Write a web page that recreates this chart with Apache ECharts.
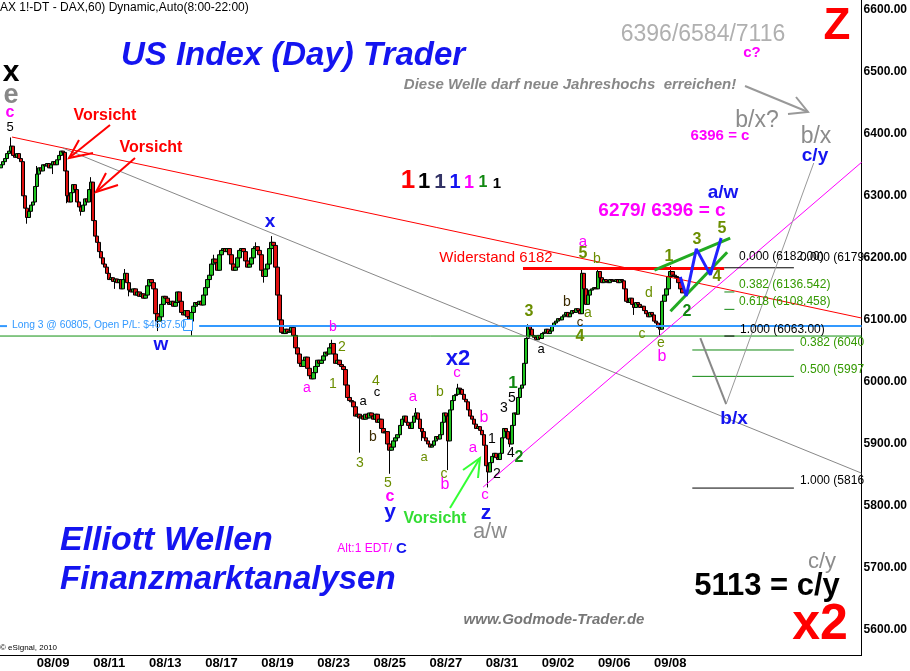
<!DOCTYPE html>
<html><head><meta charset="utf-8">
<script src="https://cdn.jsdelivr.net/npm/echarts/dist/echarts.min.js"></script>
<style>html,body{margin:0;padding:0;background:#fff}#c{width:910px;height:671px}</style>
</head><body><div id="c"></div>
<script>
// ---------- DATA ----------
const closes = [
6350,6355,6360,6368,6372,6380,6365,6362,6368,6360,
6355,6300,6280,6265,6275,6285,6290,6315,6335,6345,
6340,6350,6348,6352,6345,6350,6355,6350,6358,6365,
6372,6370,6340,6300,6290,6305,6318,6310,6290,6282,
6275,6285,6295,6290,6310,6322,6260,6235,6225,6210,
6200,6190,6185,6175,6165,6168,6162,6166,6160,6165,
6150,6165,6175,6160,6148,6145,6150,6140,6145,6138,
6142,6135,6140,6155,6165,6160,6150,6110,6098,6105,
6125,6138,6135,6128,6125,6130,6122,6128,6145,6130,
6112,6108,6115,6105,6098,6112,6122,6128,6125,6130,
6124,6140,6152,6165,6172,6190,6198,6192,6180,6205,
6212,6215,6210,6215,6205,6190,6180,6185,6200,6212,
6215,6210,6195,6185,6190,6200,6215,6218,6212,6205,
6180,6170,6182,6190,6215,6225,6220,6185,6140,6100,
6080,6078,6085,6080,6082,6088,6075,6055,6045,6030,
6025,6035,6040,6022,6010,6005,6015,6025,6035,6030,
6035,6042,6048,6045,6055,6062,6045,6030,6035,6028,
6025,6020,5995,5975,5970,5968,5960,5945,5948,5942,
5945,5940,5948,5942,5950,5945,5940,5948,5935,5940,
5925,5918,5920,5900,5890,5895,5905,5910,5915,5930,
5940,5945,5935,5930,5925,5935,5945,5950,5940,5925,
5920,5910,5905,5900,5895,5898,5905,5912,5908,5915,
5935,5950,5945,5905,5955,5970,5978,5980,5990,5988,
5980,5972,5968,5955,5945,5940,5932,5925,5928,5922,
5915,5898,5865,5855,5870,5880,5885,5878,5875,5885,
5910,5925,5920,5908,5900,5930,5950,5948,5975,5990,
5995,6030,6070,6090,6085,6075,6072,6068,6075,6070,
6078,6080,6085,6078,6082,6090,6095,6098,6102,6100,
6105,6108,6112,6105,6110,6115,6112,6118,6115,6110,
6175,6150,6125,6140,6148,6150,6152,6150,6178,6168,
6160,6165,6162,6160,6165,6163,6162,6165,6160,6165,
6163,6150,6130,6128,6135,6125,6120,6128,6125,6120,
6122,6115,6110,6105,6112,6108,6098,6095,6088,6085,
6130,6140,6150,6170,6178,6172,6170,6168,6160,6150,6143.5
];
const firstOpen = 6345;
const wickLows  = [[13,6255],[26,6335],[33,6288],[40,6268],[57,6150],[64,6138],[78,6082],[95,6075],[131,6160],[179,5886],[194,5852],[210,5905],[223,5858],[243,5830],[254,5895],[316,6108],[329,6075]];
const wickHighs = [[5,6394],[18,6348],[45,6330],[62,6182],[106,6205],[127,6225],[135,6235],[165,6068],[207,5958],[228,5997],[263,6093],[290,6184],[298,6182],[334,6187]];
const dayLabels = ['08/09','08/11','08/13','08/17','08/19','08/23','08/25','08/27','08/31','09/02','09/06','09/08'];
const firstLabelBar = 26, barsPerLabel = 28, totalBars = 430;
const yTicks = [5600,5700,5800,5900,6000,6100,6200,6300,6400,6500,6600];
const lastPrice = 6143.5;

// trend / level lines as [barIndex, price]
const redTrend     = [[5.5,6394.7],[429.5,6103]];
const grayTrend    = [[30.8,6377],[429.5,5853]];
const pinkTrend    = [[240.6,5830.6],[429.5,6354]];
const resistance   = [[260.5,6183],[360.9,6183]];
const fib0Line     = [[360.9,6184],[395.7,6184]];
const blueLong1    = [[-0.5,6090],[3,6090]];
const blueLong2    = [[98.9,6090],[429.5,6090]];
const greenLong    = [[-0.5,6074],[429.5,6074]];
const fibDashG1    = [[361,6145],[366,6145]];
const fibDashG2    = [[361,6117],[366,6117]];
const fibDashK     = [[361,6074],[366,6074]];
const fib2G382     = [[345,6051.5],[395.7,6051.5]];
const fib2G500     = [[345,6009],[395.7,6009]];
const fib2K100     = [[345,5829],[395.7,5829]];
const projDown     = [[349,6070.8],[361.9,5964.4]];
const projUp       = [[361.9,5964.4],[405.6,6352.8]];
const wedgeUpper   = [[326.1,6180.3],[363.9,6231.9]];
const wedgeLower   = [[334.1,6114],[362.4,6209]];
const blueZigzag   = [[339,6169.2],[342,6138.6],[347,6214.4],[354,6172.5],[359.4,6232]];

// ---------- BUILD ----------
const lowMap = Object.fromEntries(wickLows), highMap = Object.fromEntries(wickHighs);
const candles = closes.map((c,i)=>{
  const o = i===0 ? firstOpen : closes[i-1];
  let lo = Math.min(o,c), hi = Math.max(o,c);
  if (lowMap[i]!==undefined) lo = Math.min(lo, lowMap[i]);
  if (highMap[i]!==undefined) hi = Math.max(hi, highMap[i]);
  return [o,c,lo,hi];
});
const cats = Array.from({length: totalBars}, (_,i)=>String(i));
const labelMap = {};
dayLabels.forEach((d,k)=>{ labelMap[firstLabelBar + k*barsPerLabel] = d; });

const FONT = '"Liberation Sans", Arial, sans-serif';
function txt(x,y,s,color,size,weight,style,align,valign){
  weight = weight||'normal'; style = style||'normal'; align = align||'center'; valign = valign||'middle';
  return {type:'text', x:x, y:y, silent:true, z:100,
    style:{text:s, fill:color, font: style+' '+weight+' '+size+'px '+FONT,
      textAlign:align, textVerticalAlign:valign, align:align, verticalAlign:valign}};
}
function poly(points,color,w){
  return {type:'polyline', silent:true, z:90, shape:{points:points}, style:{stroke:color, lineWidth:w, fill:null}};
}
function L(data,color,w){
  return {type:'line', xAxisIndex:1, yAxisIndex:0, data:data, symbol:'none', silent:true,
    lineStyle:{color:color, width:w}, animation:false, z:5};
}
const MAG='#ff00ff', OLV='#6b8e00', GRN='#118811', BLU='#1414f0', BLK='#000', GRY='#8c8c8c', BRN='#3a2a00';

const graphics = [
  txt(0,8,'AX 1!-DT - DAX,60) Dynamic,Auto(8:00-22:00)',BLK,12,'normal','normal','left'),
  txt(293,56,'US Index (Day) Trader',BLU,33,'bold','italic'),
  txt(11,73,'x',BLK,30,'bold'),
  txt(11,96,'e','#888',27,'bold'),
  txt(10,113,'c',MAG,16,'bold'),
  txt(10,127,'5',BLK,13),
  txt(105,116,'Vorsicht','#ff0000',16,'bold'),
  txt(151,148,'Vorsicht','#ff0000',16,'bold'),
  poly([[110,125],[69,158]],'#ff0000',2), poly([[79,140],[69,158],[93,153]],'#ff0000',2),
  poly([[135,158],[96,192]],'#ff0000',2), poly([[106,173],[96,192],[118,185]],'#ff0000',2),
  // 1111111
  txt(408,181,'1','#ff0000',26,'bold'),
  txt(424,182,'1','#000',22,'bold'),
  txt(440,182,'1','#333366',21,'bold'),
  txt(455,182,'1','#1414f0',20,'bold'),
  txt(469,183,'1',MAG,18,'bold'),
  txt(483,183,'1',GRN,16,'bold'),
  txt(497,184,'1','#000',15,'bold'),
  txt(270,222,'x',BLU,19,'bold'),
  txt(161,345,'w',BLU,19,'bold'),
  txt(12,325,'Long 3 @ 60805, Open P/L: $4687.50','#3399ff',10.3,'normal','normal','left'),
  {type:'rect', silent:true, z:95, shape:{x:183.5,y:319.5,width:9,height:11}, style:{stroke:'#3399ff',fill:'#fff',lineWidth:1}},
  poly([[185,322],[191,329]],'#3399ff',1), poly([[191,322],[185,329]],'#3399ff',1),
  txt(333,327,'b',MAG,14), txt(342,347,'2',OLV,14), txt(307,388,'a',MAG,14), txt(333,384,'1',OLV,14),
  txt(376,381,'4',OLV,14), txt(377,392,'c',BLK,13), txt(363,401,'a',BLK,13), txt(373,437,'b',BRN,14),
  txt(360,463,'3',OLV,14), txt(388,483,'5',OLV,14), txt(390,497,'c',MAG,16,'bold'), txt(390,512,'y',BLU,21,'bold'),
  txt(413,397,'a',MAG,15), txt(424,457,'a',OLV,13), txt(440,392,'b',OLV,14), txt(444,474,'c',OLV,14),
  txt(445,485,'b',MAG,16), txt(458,359,'x2',BLU,22,'bold'), txt(457,373,'c',MAG,15),
  txt(484,418,'b',MAG,16), txt(473,448,'a',MAG,15), txt(492,439,'1',BLK,14), txt(497,474,'2',BLK,14),
  txt(485,495,'c',MAG,15), txt(486,513,'z',BLU,21,'bold'), txt(504,408,'3',BLK,14), txt(512,398,'5',BLK,14),
  txt(513,383,'1',GRN,17,'bold'), txt(511,453,'4',BLK,14), txt(519,458,'2',GRN,16,'bold'), txt(541,349,'a',BLK,13),
  txt(490,532,'a/w',GRY,22), txt(435,519,'Vorsicht','#33dd33',16,'bold'),
  poly([[450,508],[480,458]],'#33ff33',2), poly([[463,470],[480,458],[478,478]],'#33ff33',2),
  txt(583,242,'a',MAG,15), txt(583,254,'5',OLV,16,'bold'), txt(597,259,'b',OLV,14), txt(567,302,'b',BRN,14),
  txt(588,313,'a',OLV,14), txt(580,322,'c',BRN,13), txt(529,312,'3',OLV,16,'bold'), txt(580,337,'4',OLV,16,'bold'),
  txt(642,334,'c',OLV,14), txt(649,293,'d',OLV,14), txt(661,343,'e',OLV,14), txt(662,357,'b',MAG,16),
  txt(669,257,'1',OLV,16,'bold'), txt(697,240,'3',OLV,16,'bold'), txt(722,229,'5',OLV,16,'bold'),
  txt(717,277,'4',OLV,16,'bold'), txt(687,312,'2',GRN,16,'bold'),
  txt(496,258,'Widerstand 6182','#ff0000',15),
  txt(662,211,'6279/ 6396 = c',MAG,19,'bold'),
  txt(723,193,'a/w',BLU,19,'bold'),
  txt(815,156,'c/y',BLU,19,'bold'),
  txt(816,137,'b/x',GRY,23),
  txt(757,121,'b/x?',GRY,23),
  txt(720,136,'6396 = c',MAG,15,'bold'),
  txt(752,53,'c?',MAG,15,'bold'),
  txt(703,35,'6396/6584/7116','#b0b0b0',23),
  txt(570,85,'Diese Welle darf neue Jahreshochs  erreichen!','#888',15,'bold','italic'),
  poly([[745,86],[808,112]],'#999',2), poly([[788,114],[808,112],[796,97]],'#999',2),
  txt(837,27,'Z','#ff0000',44,'bold'),
  txt(734,419,'b/x',BLU,19,'bold'),
  txt(739,257,'0.000 (6182.00)',BLK,12,'normal','normal','left'),
  txt(800,258,'0.000 (6179',BLK,12,'normal','normal','left'),
  txt(739,285,'0.382 (6136.542)','#339900',12,'normal','normal','left'),
  txt(739,302,'0.618 (6108.458)','#339900',12,'normal','normal','left'),
  txt(740,330,'1.000 (6063.00)',BLK,12,'normal','normal','left'),
  txt(800,343,'0.382 (6040','#339900',12,'normal','normal','left'),
  txt(800,370,'0.500 (5997','#339900',12,'normal','normal','left'),
  txt(800,481,'1.000 (5816',BLK,12,'normal','normal','left'),
  txt(60,541,'Elliott Wellen',BLU,34,'bold','italic','left'),
  txt(60,580,'Finanzmarktanalysen',BLU,33,'bold','italic','left'),
  txt(392,549,'Alt:1 EDT/',MAG,12,'normal','normal','right'),
  txt(396,549,'C',BLU,15,'bold','normal','left'),
  txt(822,562,'c/y',GRY,22),
  txt(767,586,'5113 = c/y',BLK,31,'bold'),
  txt(820,625,'x2','#ff0000',50,'bold'),
  txt(554,620,'www.Godmode-Trader.de','#777',15,'bold','italic'),
  txt(0,648,'\u00a9 eSignal, 2010',BLK,8,'normal','normal','left')
];

const chart = echarts.init(document.getElementById('c'), null, {renderer:'canvas'});
chart.setOption({
  animation:false,
  backgroundColor:'#fff',
  grid:{left:0, right:45, top:0, bottom:16, containLabel:false},
  xAxis:[{
    type:'category', data:cats, boundaryGap:true,
    axisLine:{show:true, onZero:false, lineStyle:{color:'#000', width:1}},
    axisTick:{show:false}, splitLine:{show:false},
    axisLabel:{interval:(idx)=>labelMap[idx]!==undefined, formatter:(v,idx)=>labelMap[idx]||'',
      fontFamily:'"Liberation Sans Narrow","Liberation Sans",Arial', fontWeight:'bold', fontSize:13, color:'#000', margin:2}
  },{
    type:'value', min:-0.5, max:totalBars-0.5, show:false
  }],
  yAxis:[{
    type:'value', position:'right', min:5560, max:6615.5, scale:true,
    axisLine:{show:true, onZero:false, lineStyle:{color:'#000', width:1}},
    axisTick:{show:false}, splitLine:{show:false},
    axisLabel:{customValues:yTicks, formatter:(v)=>Number(v).toFixed(2), fontFamily:FONT, fontWeight:'bold', fontSize:12, color:'#000', margin:2}
  }],
  series:[
    {type:'candlestick', data:candles, barWidth:4, z:3,
      itemStyle:{color:'#1fc31f', color0:'#e01010', borderColor:'#000', borderColor0:'#000', borderWidth:1},
      markLine:{silent:true, symbol:'none', lineStyle:{opacity:0}, animation:false,
        data:[{yAxis:lastPrice}],
        label:{position:'end', distance:1, formatter:()=>lastPrice.toFixed(2), color:'#fff', backgroundColor:'#ee1111',
          fontFamily:FONT, fontWeight:'bold', fontSize:12, padding:[2,2,1,2]}}
    },
    L(greenLong,'#109010',1),
    L(blueLong1,'#3399ff',2), L(blueLong2,'#3399ff',2),
    L(redTrend,'#ff0000',1), L(grayTrend,'#888',1), L(pinkTrend,'#ff00ff',1),
    L(resistance,'#ff0000',3), L(fib0Line,'#000',1),
    L(fibDashG1,'#118811',1), L(fibDashG2,'#118811',1), L(fibDashK,'#000',1),
    L(fib2G382,'#118811',1), L(fib2G500,'#118811',1), L(fib2K100,'#000',1),
    L(projDown,'#888',2), L(projUp,'#999',1),
    L(wedgeUpper,'#22aa22',3), L(wedgeLower,'#22aa22',3),
    L(blueZigzag,'#2222ff',3)
  ],
  graphic: graphics
});
</script></body></html>
